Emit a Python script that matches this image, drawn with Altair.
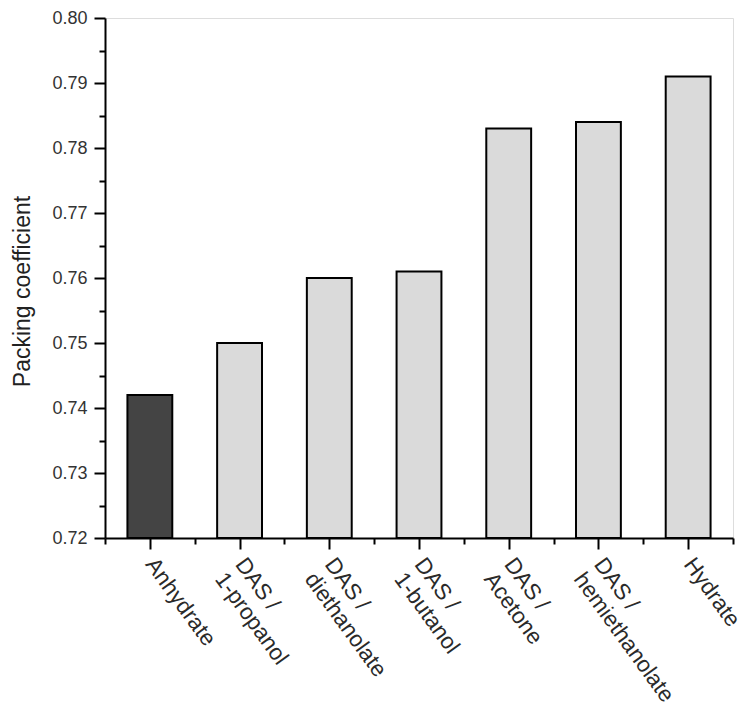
import json
import altair as alt
import pandas as pd

categories = ["Anhydrate", "DAS / 1-propanol", "DAS / diethanolate", "DAS / 1-butanol",
              "DAS / Acetone", "DAS / hemiethanolate", "Hydrate"]
label_lines = [["Anhydrate"], ["DAS /", "1-propanol"], ["DAS /", "diethanolate"],
               ["DAS /", "1-butanol"], ["DAS /", "Acetone"], ["DAS /", "hemiethanolate"],
               ["Hydrate"]]
values = [0.742, 0.750, 0.760, 0.761, 0.783, 0.784, 0.791]
kinds = ["anhydrate", "other", "other", "other", "other", "other", "other"]

y_min, y_max = 0.72, 0.80
y_major = [0.72, 0.73, 0.74, 0.75, 0.76, 0.77, 0.78, 0.79, 0.80]
y_minor = [0.725, 0.735, 0.745, 0.755, 0.765, 0.775, 0.785, 0.795]
x_major = [1, 2, 3, 4, 5, 6, 7]
x_minor = [0.5, 1.5, 2.5, 3.5, 4.5, 5.5, 6.5, 7.5]

df = pd.DataFrame({
    "idx": list(range(1, len(categories) + 1)),
    "category": categories,
    "value": values,
    "kind": kinds,
})

lab_arr = json.dumps(label_lines)
FONT = "Liberation Sans"

x_scale = alt.Scale(domain=[0.5, 7.5], nice=False, zero=False)
y_scale = alt.Scale(domain=[y_min, y_max], nice=False, zero=False)

x_axis = alt.Axis(
    orient="bottom",
    values=x_major,
    labelExpr=f"{lab_arr}[datum.value - 1]",
    labelAngle=54,
    labelAlign="left",
    labelBaseline="middle",
    labelFont=FONT,
    labelFontSize=22.5,
    labelColor="#2a2a2a",
    labelLineHeight=25,
    labelPadding=11,
    labelOverlap=False,
    labelFlush=False,
    labelBound=False,
    tickSize=11,
    tickColor="black",
    tickWidth=2,
    domainColor="black",
    domainWidth=2,
    grid=False,
    title=None,
)

y_axis = alt.Axis(
    orient="left",
    values=y_major,
    format=".2f",
    labelFont=FONT,
    labelFontSize=18,
    labelColor="#333333",
    labelPadding=7,
    tickSize=11,
    tickColor="black",
    tickWidth=2,
    domainColor="black",
    domainWidth=2,
    grid=False,
    title="Packing coefficient",
    titleFont=FONT,
    titleFontSize=23,
    titleFontWeight="normal",
    titleColor="#222222",
    titlePadding=17,
    titleY=273,
)

x_minor_axis = alt.Axis(orient="bottom", values=x_minor, labels=False, domain=False,
                        tickSize=6, tickColor="black", tickWidth=2, grid=False, title=None)
y_minor_axis = alt.Axis(orient="left", values=y_minor, labels=False, domain=False,
                        tickSize=6, tickColor="black", tickWidth=2, grid=False, title=None)

base = alt.Chart(df).transform_calculate(
    x0="datum.idx - 0.25", x1="datum.idx + 0.25"
)

bars = base.mark_bar(stroke="black", strokeWidth=2).encode(
    x=alt.X("x0:Q", scale=x_scale, axis=x_axis),
    x2="x1:Q",
    y=alt.Y("value:Q", scale=y_scale, axis=y_axis),
    y2=alt.datum(y_min),
    fill=alt.Fill("kind:N", scale=alt.Scale(domain=["anhydrate", "other"], range=["#444444", "#dadada"]), legend=None),
)

minor = base.mark_bar(opacity=0).encode(
    x=alt.X("x0:Q", scale=x_scale, axis=x_minor_axis),
    x2="x1:Q",
    y=alt.Y("value:Q", scale=y_scale, axis=y_minor_axis),
    y2=alt.datum(y_min),
)

chart = alt.layer(bars, minor).resolve_axis(x="independent", y="independent").properties(
    width=628, height=520,
    autosize=alt.AutoSizeParams(type="none"),
    padding={"left": 97, "top": 10, "right": 9, "bottom": 170},
).configure_view(stroke=None).configure(background="white")

chart.save("out.html", embed_options={"renderer": "svg", "actions": False})
